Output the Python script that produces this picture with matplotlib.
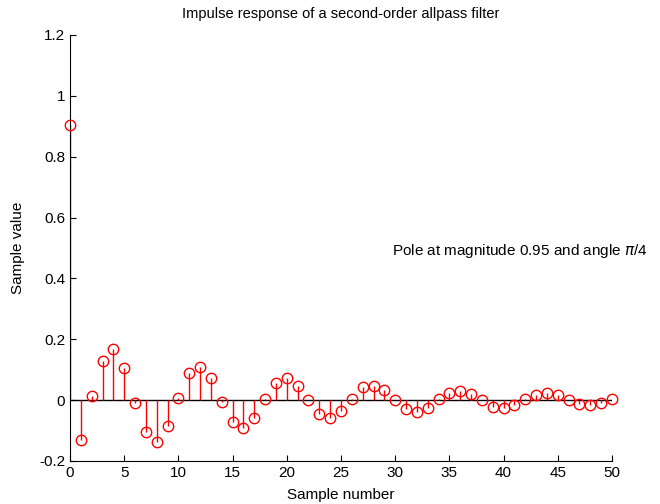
import matplotlib.pyplot as plt
import numpy as np

plt.rcParams['font.family'] = ['Liberation Sans', 'DejaVu Sans']

# sample values
samples = np.arange(0, 51)
values = [0.904, -0.132, 0.013, 0.130, 0.167, 0.105, -0.011, -0.106, -0.136, -0.086,
          0.008, 0.089, 0.110, 0.073, -0.005, -0.071, -0.091, -0.058, 0.003, 0.057,
          0.073, 0.047, 0.000, -0.046, -0.058, -0.037, 0.005, 0.042, 0.048, 0.032,
          -0.001, -0.030, -0.038, -0.026, 0.003, 0.025, 0.031, 0.020, -0.001, -0.022,
          -0.026, -0.017, 0.003, 0.016, 0.022, 0.016, 0.000, -0.013, -0.016, -0.011,
          0.005]

fig = plt.figure(figsize=(6.6, 5.04), dpi=100)
ax = fig.add_axes([70 / 660, 1 - 461 / 504, 542 / 660, 426 / 504])

ax.axhline(0, color='black', lw=1, zorder=1)
ax.vlines(samples, 0, values, color='red', lw=1, zorder=2)
ax.plot(samples, values, 'o', ms=7.5, mfc='none', mec='red', mew=1, zorder=3,
        clip_on=False)

ax.set_xlim(0, 50)
ax.set_ylim(-0.2, 1.2)
ax.set_xticks(range(0, 51, 5))
ax.set_yticks(np.arange(-0.2, 1.21, 0.2))
ax.set_yticklabels(['-0.2', '0', '0.2', '0.4', '0.6', '0.8', '1', '1.2'])
ax.tick_params(direction='in', length=4, labelsize=11, width=0.8)
for s in ['top', 'right']:
    ax.spines[s].set_visible(False)
ax.spines['left'].set_linewidth(0.8)
ax.spines['bottom'].set_linewidth(0.8)

ax.set_title('Impulse response of a second-order allpass filter', fontsize=10.5, pad=12)
ax.set_xlabel('Sample number', fontsize=11, labelpad=6)
ax.set_ylabel('Sample value', fontsize=11, labelpad=10)
ax.text(29.7, 0.49, r'Pole at magnitude 0.95 and angle $\pi$/4', fontsize=11,
        va='center', ha='left')

fig.savefig('out.png', dpi=100)
